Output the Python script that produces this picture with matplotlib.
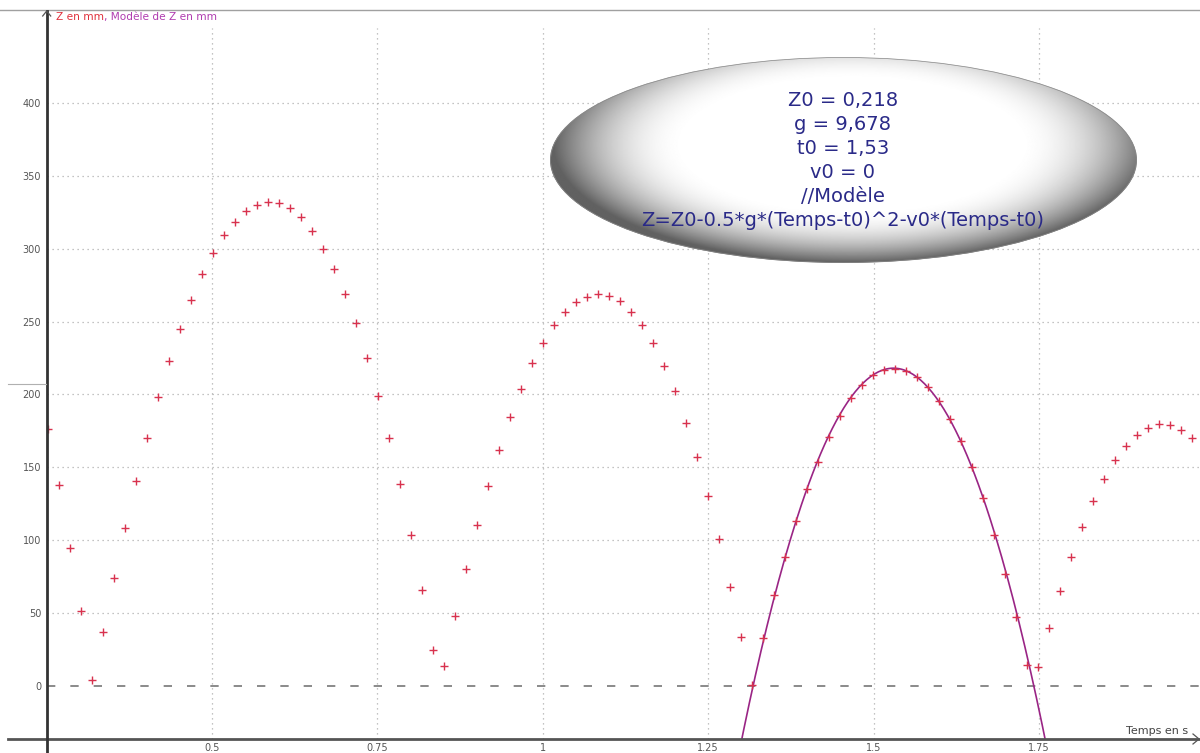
import numpy as np
import matplotlib
matplotlib.use('Agg')
import matplotlib.pyplot as plt
from matplotlib.lines import Line2D
from matplotlib.patches import Ellipse

# --- data (time in s, Z in mm) ---
temps = [
    0.2517, 0.2683, 0.2850, 0.3016, 0.3182, 0.3349, 0.3515, 0.3681, 0.3847, 0.4014,
    0.4180, 0.4346, 0.4513, 0.4679, 0.4845, 0.5012, 0.5178, 0.5344, 0.5510, 0.5677,
    0.5843, 0.6009, 0.6176, 0.6342, 0.6508, 0.6675, 0.6841, 0.7007, 0.7173, 0.7340,
    0.7506, 0.7672, 0.7839, 0.8005, 0.8171, 0.8338, 0.8504, 0.8670, 0.8836, 0.9003,
    0.9169, 0.9335, 0.9502, 0.9668, 0.9834, 1.0001, 1.0167, 1.0333, 1.0499, 1.0666,
    1.0832, 1.0998, 1.1165, 1.1331, 1.1497, 1.1664, 1.1830, 1.1996, 1.2162, 1.2329,
    1.2495, 1.2661, 1.2828, 1.2994, 1.3160, 1.3327, 1.3493, 1.3659, 1.3825, 1.3992,
    1.4158, 1.4324, 1.4491, 1.4657, 1.4823, 1.4990, 1.5156, 1.5322, 1.5488, 1.5655,
    1.5821, 1.5987, 1.6154, 1.6320, 1.6486, 1.6653, 1.6819, 1.6985, 1.7151, 1.7318,
    1.7484, 1.7650, 1.7817, 1.7983, 1.8149, 1.8316, 1.8482, 1.8648, 1.8814, 1.8981,
    1.9147, 1.9313, 1.9480, 1.9646, 1.9812,
]
z_mm = [
    176, 137.6, 95, 51.4, 3.9, 36.8, 74, 108.4, 140.4, 170.3,
    198, 222.7, 244.9, 265, 282.4, 297.2, 309.3, 318.5, 326, 330.1,
    332, 331.5, 327.7, 321.5, 312.3, 300, 286, 269, 248.7, 225.2,
    199, 170.3, 138.3, 103.6, 65.8, 24.7, 13.5, 48, 80.2, 110.2,
    137, 161.9, 184.3, 203.7, 221.3, 235, 247.3, 256.5, 263.2, 266.6,
    268.9, 267.7, 264, 256.5, 247.3, 235, 219.7, 202.3, 180.6, 157,
    130.3, 100.8, 67.7, 33.4, 0.5, 32.7, 62.4, 88.7, 113.2, 134.9,
    153.6, 171, 185.2, 197.3, 206.4, 213, 216.7, 217.4, 216.3, 212.2,
    205.3, 195.7, 183.1, 167.8, 150.2, 129.2, 103.6, 76.8, 47.5, 14.4,
    13.2, 40, 65.2, 88.3, 108.8, 126.6, 141.7, 154.7, 164.6, 172.4,
    177, 179.5, 178.8, 175.6, 169.9,
]

# model parameters shown in the bubble
Z0 = 0.218
g = 9.678
t0 = 1.53
v0 = 0

x_ticks = [0.5, 0.75, 1, 1.25, 1.5, 1.75]
x_tick_labels = ['0.5', '0.75', '1', '1.25', '1.5', '1.75']
y_ticks = [0, 50, 100, 150, 200, 250, 300, 350, 400]

W, H = 1200, 753


def fx(px):
    return px / W


def fy(py):
    return 1 - py / H


fig = plt.figure(figsize=(12, 7.53), dpi=100)
fig.patch.set_facecolor('white')

# main plot area (pixel box measured on the reference)
ax = fig.add_axes([fx(46.7), fy(739), fx(1200 - 46.7), (739 - 28) / H])
ax.set_xlim(0.25, 1.9934)
ax.set_ylim(-36.3, 451.3)
for s in ax.spines.values():
    s.set_visible(False)

ax.set_xticks(x_ticks)
ax.set_xticklabels(x_tick_labels)
ax.set_yticks(y_ticks)
ax.tick_params(length=0, labelsize=7, labelcolor='#555555')
ax.tick_params(axis='y', pad=4)
ax.tick_params(axis='x', pad=3)

# dotted grid
for xv in x_ticks:
    ax.axvline(xv, color='#b0b0b0', ls=(0, (1, 3)), lw=0.9, zorder=1)
for yv in y_ticks[1:]:
    ax.axhline(yv, color='#b0b0b0', ls=(0, (1, 3)), lw=0.9, zorder=1)
ax.axhline(0, color='#777777', ls=(0, (5, 9)), lw=1.2, zorder=1)

# model curve
tt = np.linspace(0.25, 1.9934, 600)
zz = 1000 * (Z0 - 0.5 * g * (tt - t0) ** 2 - v0 * (tt - t0))
ax.plot(tt, zz, color='#9a2585', lw=1.2, zorder=2)

# measured points
ax.plot(temps, z_mm, ls='none', marker='+', ms=6, mew=1.0,
        color='#d8324e', zorder=3)

# axes lines drawn in figure coordinates
fig.add_artist(Line2D([fx(0), fx(1200)], [fy(9.5), fy(9.5)],
                      color='#a0a0a0', lw=1))
fig.add_artist(Line2D([fx(8), fx(1200)], [fy(739), fy(739)],
                      color='#555555', lw=2))
fig.add_artist(Line2D([fx(46.7), fx(46.7)], [fy(11), fy(753)],
                      color='#333333', lw=2))
fig.add_artist(Line2D([fx(8), fx(46)], [fy(384), fy(384)],
                      color='#b0b0b0', lw=0.8))
# arrow heads
fig.add_artist(Line2D([fx(42.7), fx(46.7), fx(50.7)], [fy(16), fy(11), fy(16)],
                      color='#555555', lw=0.9))
fig.add_artist(Line2D([fx(1193), fx(1199), fx(1193)], [fy(734), fy(739), fy(744)],
                      color='#555555', lw=0.9))

# axis titles
t1 = fig.text(fx(56), fy(22), 'Z en mm', color='#e0303c', fontsize=7.6,
              ha='left', va='bottom')
ax.annotate(', Modèle de Z en mm', xy=(1, 0), xycoords=t1, color='#b03cb0',
            fontsize=7.6, ha='left', va='bottom', annotation_clip=False)
fig.text(fx(1188), fy(731), 'Temps en s', color='#444444', fontsize=8,
         ha='right', va='center')

# shaded bubble with the model
ex0, ex1, ey0, ey1 = 550, 1137, 57, 263
eax = fig.add_axes([fx(ex0), fy(ey1), (ex1 - ex0) / W, (ey1 - ey0) / H])
eax.axis('off')
u = np.linspace(-1, 1, 700)
v = np.linspace(1, -1, 260)
U, V = np.meshgrid(u, v)
r = np.sqrt(((U - 0.03) / 1.02) ** 2 + ((V - 0.15) / 1.15) ** 2)
shade = 1 - 0.62 * np.clip((r - 0.55) / 0.45, 0, 1) ** 2.0
shade = np.clip(shade, 0.38, 1)
im = eax.imshow(shade, cmap='gray', vmin=0, vmax=1, extent=(-1, 1, -1, 1),
                aspect='auto', interpolation='bilinear')
eax.set_xlim(-1, 1)
eax.set_ylim(-1, 1)
ell = Ellipse((0, 0), 2, 2, transform=eax.transData)
im.set_clip_path(ell)
eax.add_patch(Ellipse((0, 0), 1.996, 1.99, fill=False, edgecolor='#8a8a8a', lw=0.5))

bubble_lines = ['Z0 = 0,218', 'g = 9,678', 't0 = 1,53', 'v0 = 0', '//Modèle',
                'Z=Z0-0.5*g*(Temps-t0)^2-v0*(Temps-t0)']
for k, line in enumerate(bubble_lines):
    fig.text(fx(843), fy(100 + 24 * k), line, color='#2a2a88', fontsize=14,
             ha='center', va='center', zorder=5)

fig.savefig('out.png', dpi=100)
